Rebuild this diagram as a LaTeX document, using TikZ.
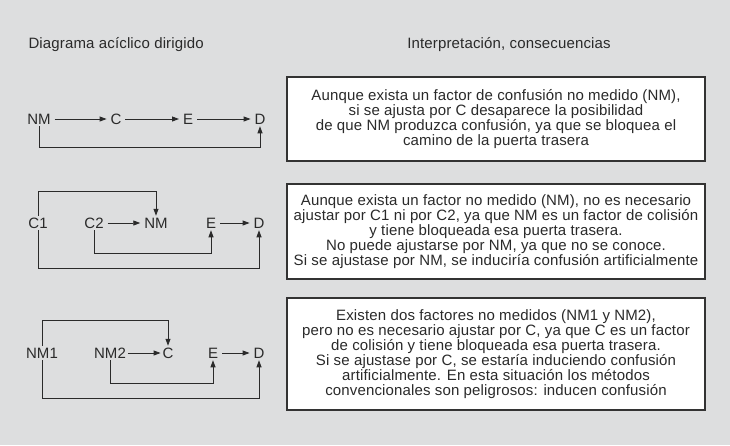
\documentclass[tikz,border=0pt]{standalone}
\usepackage{fontspec}
\setmainfont{Liberation Sans}[LetterSpace=1]
\usepackage{tikz}
\usetikzlibrary{arrows.meta}
\definecolor{bggray}{HTML}{DDDEDF}
\definecolor{inkgray}{HTML}{2A2A2A}
\definecolor{framegray}{HTML}{333333}

\begin{document}
\begin{tikzpicture}[x=1pt, y=-1pt,
        every node/.style={font=\fontsize{15}{15}\selectfont, text=inkgray},
        var/.style={inner xsep=4pt, inner ysep=2pt, outer sep=0pt,
                    text height=10.5pt, text depth=0pt},
        arr/.style={-{Triangle[length=7pt, width=5pt]}, line width=0.9pt, draw=inkgray},
        txtbox/.style={draw=framegray, line width=1.3pt, fill=white,
                       minimum width=418pt, align=center, inner sep=0pt}]

      % Background
      \fill[bggray] (0,0) rectangle (730,445);
      \useasboundingbox (0,0) rectangle (730,445);

      % Column titles
      \node[anchor=base west] (hdag) at (25,48) {Diagrama acíclico dirigido};
      \node[anchor=base] (hint) at (509,48) {Interpretación, consecuencias};

      % First diagram
      \node[var] (nmA) at (39,119) {NM};
      \node[var] (cA) at (116,119) {C};
      \node[var] (eA) at (188,119) {E};
      \node[var] (dA) at (260,119) {D};
      \draw[arr] (nmA) -- (cA);
      \draw[arr] (cA) -- (eA);
      \draw[arr] (eA) -- (dA);
      \draw[arr] (nmA.south) |- ([yshift=-21pt]dA.south) -- (dA.south);

      % Second diagram
      \node[var] (c1B) at (38,223) {C1};
      \node[var] (c2B) at (94,223) {C2};
      \node[var] (nmB) at (156,223) {NM};
      \node[var] (eB) at (211,223) {E};
      \node[var] (dB) at (259,223) {D};
      \draw[arr] (c1B.north) |- ([yshift=24pt]nmB.north) -- (nmB.north);
      \draw[arr] (c2B) -- (nmB);
      \draw[arr] (eB) -- (dB);
      \draw[arr] (c2B.south) |- ([yshift=-23pt]eB.south) -- (eB.south);
      \draw[arr] (c1B.south) |- ([yshift=-38pt]dB.south) -- (dB.south);

      % Third diagram
      \node[var] (nm1C) at (42,353) {NM1};
      \node[var] (nm2C) at (110,353) {NM2};
      \node[var] (cC) at (168,353) {C};
      \node[var] (eC) at (213,353) {E};
      \node[var] (dC) at (259,353) {D};
      \draw[arr] (nm1C.north) |- ([yshift=25pt]cC.north) -- (cC.north);
      \draw[arr, shorten <=-2pt, shorten >=-2pt] (nm2C) -- (cC);
      \draw[arr] (eC) -- (dC);
      \draw[arr] (nm2C.south) |- ([yshift=-23pt]eC.south) -- (eC.south);
      \draw[arr] (nm1C.south) |- ([yshift=-38pt]dC.south) -- (dC.south);

      % Interpretation boxes
      \node[txtbox, minimum height=84pt] (boxA) at (496,119)
        {Aunque exista un factor de confusión no medido (NM),\\
         si se ajusta por C desaparece la posibilidad\\
         de que NM produzca confusión, ya que se bloquea el\\
         camino de la puerta trasera};
      \node[txtbox, minimum height=95pt] (boxB) at (496,231.5)
        {Aunque exista un factor no medido (NM), no es necesario\\
         ajustar por C1 ni por C2, ya que NM es un factor de colisión\\
         y tiene bloqueada esa puerta trasera.\\
         No puede ajustarse por NM, ya que no se conoce.\\
         Si se ajustase por NM, se induciría confusión artificialmente};
      \node[txtbox, minimum height=112pt] (boxC) at (496,354)
        {Existen dos factores no medidos (NM1 y NM2),\\
         pero no es necesario ajustar por C, ya que C es un factor\\
         de colisión y tiene bloqueada esa puerta trasera.\\
         Si se ajustase por C, se estaría induciendo confusión\\
         artificialmente. En esta situación los métodos\\
         convencionales son peligrosos: inducen confusión};

    \end{tikzpicture}
\end{document}
